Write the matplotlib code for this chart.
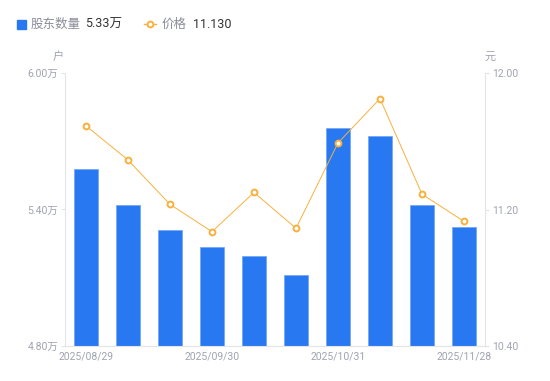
import numpy as np
import matplotlib.pyplot as plt

plt.rcParams['font.family'] = ['Roboto', 'Noto Sans CJK SC', 'DejaVu Sans']

# 数据
dates = ['2025/08/29', '', '', '2025/09/30', '', '', '2025/10/31', '', '', '2025/11/28']
holders = [5.578, 5.42, 5.31, 5.235, 5.196, 5.112, 5.758, 5.723, 5.42, 5.325]  # 万户
price = [11.69, 11.49, 11.23, 11.07, 11.30, 11.09, 11.59, 11.85, 11.29, 11.13]
left_ticks = [4.80, 5.40, 6.00]
right_ticks = [10.40, 11.20, 12.00]

bar_color = '#2878f2'
line_color = '#f8b13c'
tick_color = '#a0a3b1'
axis_color = '#e3e4e8'

fig = plt.figure(figsize=(5.5, 3.81), dpi=100)
ax = fig.add_axes([65 / 550, 1 - 346 / 381, 420 / 550, 273 / 381])
ax2 = ax.twinx()

x = np.arange(len(holders))
ax.bar(x, holders, width=0.59, color=bar_color, edgecolor='#6ea3f5', linewidth=0.5, zorder=2)
ax.set_xlim(-0.5, len(holders) - 0.5)
ax.set_ylim(4.80, 6.00)
ax.set_yticks(left_ticks)
ax.set_yticklabels([f'{v:.2f}万' for v in left_ticks])

ax2.plot(x, price, color=line_color, linewidth=0.7, marker='o', markersize=4.2,
         markerfacecolor='white', markeredgecolor=line_color, markeredgewidth=1.4, zorder=3)
ax2.set_ylim(10.40, 12.00)
ax2.set_yticks(right_ticks)
ax2.set_yticklabels([f'{v:.2f}' for v in right_ticks])

ax.set_xticks(x)
ax.set_xticklabels(dates)
ax.tick_params(axis='x', length=0, labelsize=7.5, colors=tick_color, pad=4)
ax.tick_params(axis='y', length=3, width=0.8, color=axis_color, labelsize=7.5, labelcolor=tick_color, pad=2)
ax2.tick_params(axis='y', length=3, width=0.8, color=axis_color, labelsize=7.5, labelcolor=tick_color, pad=2)

for a in (ax, ax2):
    for s in a.spines.values():
        s.set_visible(False)
ax.spines['left'].set_visible(True)
ax.spines['left'].set_color(axis_color)
ax.spines['bottom'].set_visible(True)
ax.spines['bottom'].set_color(axis_color)
ax2.spines['right'].set_visible(True)
ax2.spines['right'].set_color(axis_color)

# 单位
fig.text(58 / 550, 1 - 57 / 381, '户', fontsize=8, color=tick_color, ha='center', va='center')
fig.text(490 / 550, 1 - 57 / 381, '元', fontsize=8, color=tick_color, ha='center', va='center')

# 图例
fig.patches.append(plt.Rectangle((17 / 550, 1 - 29 / 381), 9 / 550, 9 / 381,
                                 transform=fig.transFigure, color=bar_color, figure=fig))
fig.text(31 / 550, 1 - 24 / 381, '股东数量', fontsize=9, color='#8a8d99', va='center')
fig.text(85 / 550, 1 - 24 / 381, f'{holders[-1]:.2f}万', fontsize=9, color='#333333', va='center')
fig.lines.append(plt.Line2D([144 / 550, 156 / 550], [1 - 24 / 381, 1 - 24 / 381], transform=fig.transFigure,
                            color=line_color, linewidth=1))
fig.lines.append(plt.Line2D([150 / 550], [1 - 24 / 381], transform=fig.transFigure, color=line_color,
                            marker='o', markersize=4.2, markerfacecolor='white', markeredgewidth=1.4))
fig.text(162 / 550, 1 - 24 / 381, '价格', fontsize=9, color='#8a8d99', va='center')
fig.text(193 / 550, 1 - 24 / 381, f'{price[-1]:.3f}', fontsize=9, color='#333333', va='center')

fig.savefig('out.png', dpi=100)
